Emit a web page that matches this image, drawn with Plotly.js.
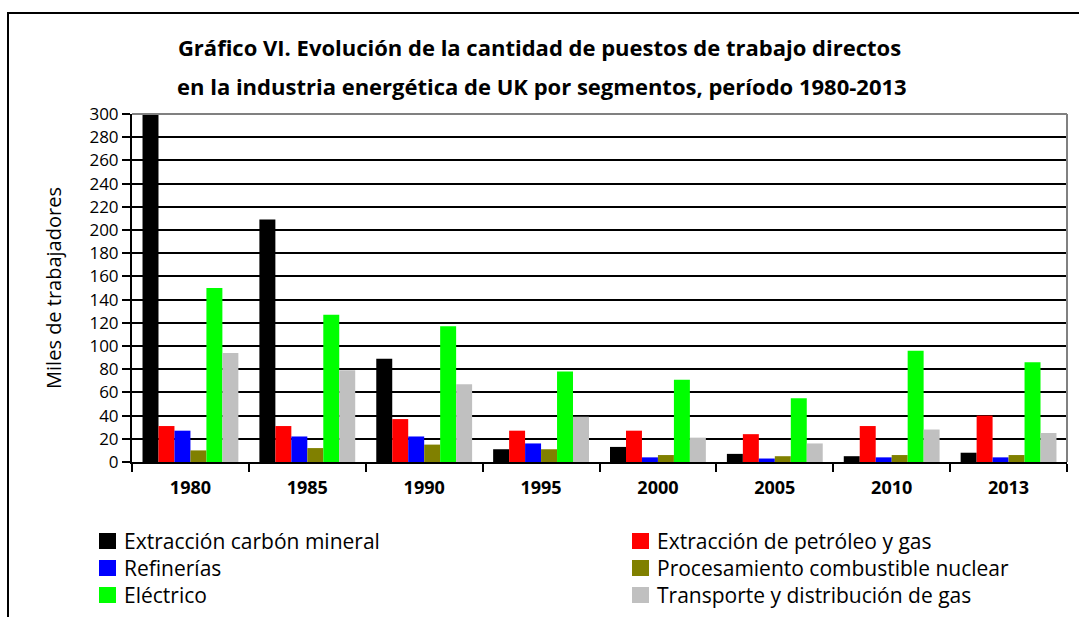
<!DOCTYPE html>
<html>
<head>
<meta charset="utf-8">
<script src="https://cdn.plot.ly/plotly-3.0.1.min.js"></script>
<style>html,body{margin:0;padding:0;background:#fff;}#chart{width:1079px;height:617px;}</style>
</head>
<body>
<div id="chart"></div>
<script>
const years = ['1980','1985','1990','1995','2000','2005','2010','2013'];
const carbonMineral = [300, 209, 89, 11, 13, 7, 5, 8];
const petroleoGas = [31, 31, 37, 27, 27, 24, 31, 40];
const refinerias = [27, 22, 22, 16, 4, 3, 4, 4];
const combustibleNuclear = [10, 12, 15, 11, 6, 5, 6, 6];
const electrico = [150, 127, 117, 78, 71, 55, 96, 86];
const transporteGas = [94, 79, 67, 39, 21, 16, 28, 25];
const seriesNames = ['Extracción carbón mineral', 'Extracción de petróleo y gas', 'Refinerías',
  'Procesamiento combustible nuclear', 'Eléctrico', 'Transporte y distribución de gas'];
const seriesValues = [carbonMineral, petroleoGas, refinerias, combustibleNuclear, electrico, transporteGas];
const seriesColors = ['#000000', '#FF0000', '#0000FF', '#808000', '#00FF00', '#C0C0C0'];
const yTicks = [0,20,40,60,80,100,120,140,160,180,200,220,240,260,280,300];
const titleLine1 = 'Gráfico VI. Evolución de la cantidad de puestos de trabajo directos';
const titleLine2 = 'en la industria energética de UK por segmentos, período 1980-2013';
const yTitle = 'Miles de trabajadores';

const FONT = '"Open Sans", Lato, sans-serif';
const W = 1079, H = 617;
const L = 132, R = 12, T = 114, B = 155;
const pw = W - L - R, ph = H - T - B;
const px = x => (x - L) / pw;
const py = y => (H - B - y) / ph;

const traces = seriesNames.map((n, i) => ({
  type: 'bar', name: n, x: years, y: seriesValues[i],
  marker: {color: seriesColors[i], line: {width: 0}},
  showlegend: false, hoverinfo: 'x+y+name'
}));

const shapes = [
  // outer frame
  {type: 'rect', xref: 'paper', yref: 'paper', x0: px(8), x1: px(1090), y0: py(630), y1: py(13),
   line: {color: '#000', width: 2}, fillcolor: 'rgba(0,0,0,0)'},
  // plot area top/right border
  {type: 'line', xref: 'paper', yref: 'paper', x0: 0, x1: 1, y0: 1, y1: 1, line: {color: '#808080', width: 2}, layer: 'above'},
  {type: 'line', xref: 'paper', yref: 'paper', x0: 1, x1: 1, y0: 0, y1: 1, line: {color: '#808080', width: 2}, layer: 'above'}
];
const annotations = [
  {xref: 'paper', yref: 'paper', x: px(542), y: py(86), xanchor: 'center', yanchor: 'middle', showarrow: false,
   text: '<b>' + titleLine2 + '</b>', font: {family: FONT, size: 22, color: '#000'}}
];
// custom legend: 2 columns, 3 rows
const legCols = [[99, 122], [632, 655]];
const legRows = [541, 568, 595];
seriesNames.forEach((n, i) => {
  const c = legCols[i % 2], r = legRows[Math.floor(i / 2)];
  shapes.push({type: 'rect', xref: 'paper', yref: 'paper', x0: px(c[0]), x1: px(c[0] + 17),
    y0: py(r + 8), y1: py(r - 8), line: {width: 0}, fillcolor: seriesColors[i]});
  annotations.push({xref: 'paper', yref: 'paper', x: px(c[1]), y: py(r), xanchor: 'left', yanchor: 'middle',
    showarrow: false, text: n, font: {family: FONT, size: 21, color: '#000'}});
});

const layout = {
  width: W, height: H,
  margin: {l: L, r: R, t: T, b: B, pad: 0},
  paper_bgcolor: '#fff', plot_bgcolor: '#fff',
  title: {text: '<b>' + titleLine1 + '</b>', x: 0.5, xref: 'container', xanchor: 'center',
    y: 1 - 48 / H, yref: 'container', yanchor: 'middle', font: {family: FONT, size: 22, color: '#000'}},
  barmode: 'group', bargap: 0.18, bargroupgap: 0,
  xaxis: {type: 'category', tickson: 'boundaries', ticks: 'outside', ticklen: 8, tickwidth: 2, tickcolor: '#000',
    showline: true, linecolor: '#000', linewidth: 2, showgrid: false,
    tickfont: {family: FONT, size: 18, color: '#000', weight: 'bold'}, ticklabelstandoff: 8, fixedrange: true},
  yaxis: {range: [0, 300], tickvals: yTicks, ticks: 'outside', ticklen: 8, tickwidth: 2, tickcolor: '#000',
    showline: true, linecolor: '#000', linewidth: 2, showgrid: true, gridcolor: '#000', gridwidth: 2,
    zeroline: false, tickfont: {family: FONT, size: 17, color: '#000'},
    title: {text: yTitle, font: {family: FONT, size: 20, color: '#000'}, standoff: 22}, fixedrange: true},
  shapes: shapes, annotations: annotations, showlegend: false
};
Plotly.newPlot('chart', traces, layout, {displayModeBar: false, staticPlot: true});
</script>
</body>
</html>
